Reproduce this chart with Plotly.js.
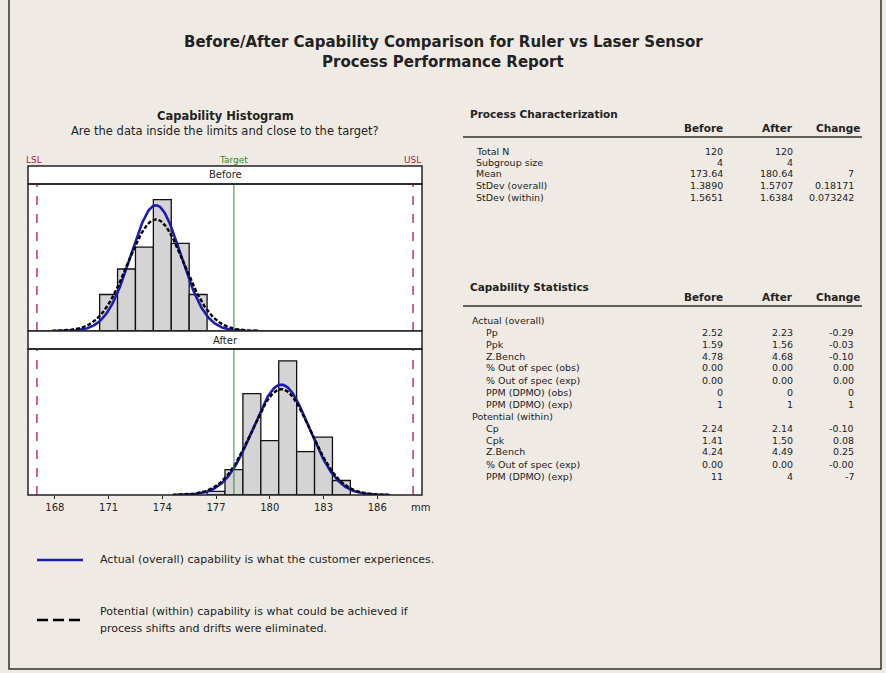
<!DOCTYPE html>
<html>
<head>
<meta charset="utf-8">
<script src="https://cdn.plot.ly/plotly-3.0.1.min.js"></script>
<style>html,body{margin:0;padding:0;background:#efebe4;}#chart{width:886px;height:673px;}</style>
</head>
<body>
<div id="chart"></div>
<script>
// ---------------- data ----------------
const binsBefore = [171, 172, 173, 174, 175, 176];
const countsBefore = [10, 17, 23, 36, 24, 10];
const binsAfter = [177, 178, 179, 180, 181, 182, 183, 184];
const countsAfter = [1, 7, 28, 15, 37, 12, 16, 4];
const groupNames = ["Before", "After"];
const sampleN = [120, 120];
const means = [173.64, 180.64];
const sdOverall = [1.3890, 1.5707];
const sdWithin = [1.5651, 1.6384];
const specLSL = 167;
const specUSL = 188;
const specTarget = 178;
const xTickVals = [168, 171, 174, 177, 180, 183, 186];

const procLabels = ["Total N", "Subgroup size", "Mean", "StDev (overall)", "StDev (within)"];
const procBefore = ["120", "4", "173.64", "1.3890", "1.5651"];
const procAfter = ["120", "4", "180.64", "1.5707", "1.6384"];
const procChange = ["", "", "7", "0.18171", "0.073242"];

const capLabels = ["Actual (overall)", "Pp", "Ppk", "Z.Bench", "% Out of spec (obs)", "% Out of spec (exp)",
  "PPM (DPMO) (obs)", "PPM (DPMO) (exp)", "Potential (within)", "Cp", "Cpk", "Z.Bench",
  "% Out of spec (exp)", "PPM (DPMO) (exp)"];
const capIndent = [0, 1, 1, 1, 1, 1, 1, 1, 0, 1, 1, 1, 1, 1];
const capBefore = ["", "2.52", "1.59", "4.78", "0.00", "0.00", "0", "1", "", "2.24", "1.41", "4.24", "0.00", "11"];
const capAfter = ["", "2.23", "1.56", "4.68", "0.00", "0.00", "0", "1", "", "2.14", "1.50", "4.49", "0.00", "4"];
const capChange = ["", "-0.29", "-0.03", "-0.10", "0.00", "0.00", "0", "1", "", "-0.10", "0.08", "0.25", "-0.00", "-7"];

// ---------------- helpers ----------------
const W = 886, H = 673;
const px = v => v / W;
const py = v => 1 - v / H;
const FONT = "DejaVu Sans, Verdana, sans-serif";
const INK = '#222';

function normalCurve(mu, sd, sdRange, n) {
  const xs = [], ys = [];
  const lo = mu - 3.7 * sdRange, hi = mu + 3.7 * sdRange;
  for (let x = lo; x <= hi + 1e-9; x += 0.05) {
    xs.push(x);
    ys.push(n * Math.exp(-0.5 * ((x - mu) / sd) ** 2) / (sd * Math.sqrt(2 * Math.PI)));
  }
  return {xs, ys};
}

// ---------------- geometry ----------------
const boxL = 28, boxR = 422;
const strip1T = 166, strip1B = 184, plot1B = 331;
const strip2B = 349, plot2B = 495;
const xRange = [166.5, 188.5];
const yMax = 40.3;

const traces = [];
const binSets = [[binsBefore, countsBefore], [binsAfter, countsAfter]];
for (let g = 0; g < 2; g++) {
  const xa = g === 0 ? 'x' : 'x2', ya = g === 0 ? 'y' : 'y2';
  traces.push({type: 'bar', x: binSets[g][0], y: binSets[g][1], width: 1, xaxis: xa, yaxis: ya,
    marker: {color: '#d4d4d4', line: {color: '#111', width: 1.3}}, hoverinfo: 'skip', showlegend: false});
  const o = normalCurve(means[g], sdOverall[g], sdWithin[g], sampleN[g]);
  const w = normalCurve(means[g], sdWithin[g], sdWithin[g], sampleN[g]);
  traces.push({type: 'scatter', mode: 'lines', x: o.xs, y: o.ys, xaxis: xa, yaxis: ya,
    line: {color: '#1c1cb0', width: 2.6}, hoverinfo: 'skip', showlegend: false});
  traces.push({type: 'scatter', mode: 'lines', x: w.xs, y: w.ys, xaxis: xa, yaxis: ya,
    line: {color: '#000', width: 2.4, dash: '4px,2px'}, hoverinfo: 'skip', showlegend: false});
}

const shapes = [];
const annotations = [];

// outer frame
shapes.push({type: 'rect', xref: 'paper', yref: 'paper', x0: px(9), x1: px(881), y0: py(669), y1: py(-5),
  line: {color: '#333', width: 1.5}, fillcolor: 'rgba(0,0,0,0)'});

// spec / target lines
const panels = [[strip1B, plot1B], [strip2B, plot2B]];
for (const [t, b] of panels) {
  for (const s of [specLSL, specUSL]) {
    shapes.push({type: 'line', xref: 'x', yref: 'paper', x0: s, x1: s, y0: py(b), y1: py(t),
      line: {color: '#c0143c', width: 1.3, dash: 'dash'}});
  }
  shapes.push({type: 'line', xref: 'x', yref: 'paper', x0: specTarget, x1: specTarget, y0: py(b), y1: py(t),
    line: {color: '#2e8b2e', width: 1}});
}
// strips and panel boxes
for (const [st, sb, pb, name] of [[strip1T, strip1B, plot1B, groupNames[0]], [plot1B, strip2B, plot2B, groupNames[1]]]) {
  shapes.push({type: 'rect', xref: 'paper', yref: 'paper', x0: px(boxL), x1: px(boxR), y0: py(sb), y1: py(st),
    fillcolor: '#fff', line: {color: INK, width: 1.5}});
  shapes.push({type: 'rect', xref: 'paper', yref: 'paper', x0: px(boxL), x1: px(boxR), y0: py(pb), y1: py(sb),
    fillcolor: 'rgba(0,0,0,0)', line: {color: INK, width: 1.5}});
  annotations.push({xref: 'paper', yref: 'paper', x: px((boxL + boxR) / 2), y: py((st + sb) / 2), text: name,
    showarrow: false, xanchor: 'center', yanchor: 'middle', font: {family: FONT, size: 10, color: INK}});
}

function txt(x, y, text, size, opts = {}) {
  annotations.push(Object.assign({xref: 'paper', yref: 'paper', x: px(x), y: py(y), text: text, showarrow: false,
    xanchor: 'left', yanchor: 'middle', font: {family: FONT, size: size, color: INK}}, opts));
}

// titles
txt(443, 42, "<b>Before/After Capability Comparison for Ruler vs Laser Sensor</b>", 15, {xanchor: 'center'});
txt(443, 62, "<b>Process Performance Report</b>", 15, {xanchor: 'center'});
txt(225, 116, "<b>Capability Histogram</b>", 11.5, {xanchor: 'center'});
txt(225, 131, "Are the data inside the limits and close to the target?", 11.5, {xanchor: 'center'});

// spec labels
const xToPix = v => boxL + (v - xRange[0]) / (xRange[1] - xRange[0]) * (boxR - boxL);
txt(24, 160, "LSL", 9, {font: {family: FONT, size: 9, color: '#c0143c'}});
txt(xToPix(specTarget), 160, "Target", 9, {xanchor: 'center', font: {family: FONT, size: 9, color: '#2e8b2e'}});
txt(423, 160, "USL", 9, {xanchor: 'right', font: {family: FONT, size: 9, color: '#c0143c'}});
txt(420, 507, "mm", 10, {xanchor: 'center'});

// legend
shapes.push({type: 'line', xref: 'paper', yref: 'paper', x0: px(37), x1: px(83), y0: py(560), y1: py(560),
  line: {color: '#1c1cb0', width: 2.6}});
txt(98, 559, "Actual (overall) capability is what the customer experiences.", 11);
shapes.push({type: 'line', xref: 'paper', yref: 'paper', x0: px(37), x1: px(81), y0: py(620), y1: py(620),
  line: {color: '#000', width: 2.6, dash: '11px,5px'}});
txt(98, 611, "Potential (within) capability is what could be achieved if", 11);
txt(98, 628, "process shifts and drifts were eliminated.", 11);

// right tables
const colB = 725, colA = 795, colC = 856, colHC = 862;
txt(468, 114, "<b>Process Characterization</b>", 10.5);
txt(colB, 128, "<b>Before</b>", 10.5, {xanchor: 'right'});
txt(colA, 128, "<b>After</b>", 10.5, {xanchor: 'right'});
txt(colHC, 128, "<b>Change</b>", 10.5, {xanchor: 'right'});
shapes.push({type: 'line', xref: 'paper', yref: 'paper', x0: px(463), x1: px(862), y0: py(137), y1: py(137),
  line: {color: '#333', width: 1.5}});
procLabels.forEach((lab, i) => {
  const y = 151 + i * 11.5;
  txt(474, y, lab, 9.5);
  txt(colB, y, procBefore[i], 9.5, {xanchor: 'right'});
  txt(colA, y, procAfter[i], 9.5, {xanchor: 'right'});
  if (procChange[i]) txt(colC, y, procChange[i], 9.5, {xanchor: 'right'});
});

txt(468, 287, "<b>Capability Statistics</b>", 10.5);
txt(colB, 297, "<b>Before</b>", 10.5, {xanchor: 'right'});
txt(colA, 297, "<b>After</b>", 10.5, {xanchor: 'right'});
txt(colHC, 297, "<b>Change</b>", 10.5, {xanchor: 'right'});
shapes.push({type: 'line', xref: 'paper', yref: 'paper', x0: px(463), x1: px(862), y0: py(306), y1: py(306),
  line: {color: '#333', width: 1.5}});
capLabels.forEach((lab, i) => {
  const y = 320 + i * 12;
  txt(capIndent[i] ? 484 : 470, y, lab, 9.5);
  if (capBefore[i]) txt(colB, y, capBefore[i], 9.5, {xanchor: 'right'});
  if (capAfter[i]) txt(colA, y, capAfter[i], 9.5, {xanchor: 'right'});
  if (capChange[i]) txt(colC, y, capChange[i], 9.5, {xanchor: 'right'});
});

const axCommon = {range: xRange, showgrid: false, zeroline: false, showline: false, fixedrange: true};
const layout = {
  width: W, height: H,
  margin: {l: 0, r: 0, t: 0, b: 0},
  paper_bgcolor: '#efebe4', plot_bgcolor: '#ffffff',
  showlegend: false, bargap: 0,
  xaxis: Object.assign({}, axCommon, {domain: [px(boxL), px(boxR)], anchor: 'y', showticklabels: false, ticks: ''}),
  yaxis: {domain: [py(plot1B), py(strip1B)], range: [0, yMax], showgrid: false, zeroline: false, showticklabels: false, ticks: '', anchor: 'x'},
  xaxis2: Object.assign({}, axCommon, {domain: [px(boxL), px(boxR)], anchor: 'y2', tickvals: xTickVals,
    ticks: 'outside', ticklen: 3, tickcolor: INK, tickfont: {family: FONT, size: 10, color: INK}}),
  yaxis2: {domain: [py(plot2B), py(strip2B)], range: [0, yMax], showgrid: false, zeroline: false, showticklabels: false, ticks: '', anchor: 'x2'},
  shapes: shapes,
  annotations: annotations
};
Plotly.newPlot('chart', traces, layout, {staticPlot: true, displayModeBar: false});
</script>
</body>
</html>
